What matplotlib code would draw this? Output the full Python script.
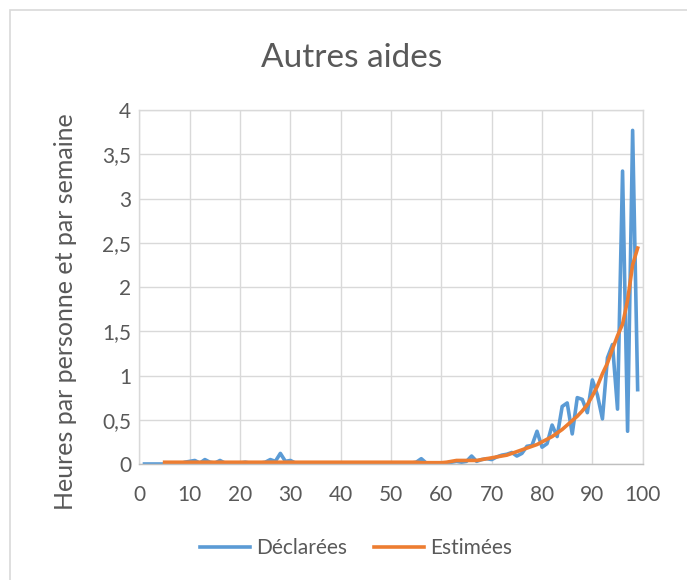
import numpy as np
import matplotlib
matplotlib.use("Agg")
import matplotlib.pyplot as plt
from matplotlib.patches import Rectangle

plt.rcParams['font.family'] = ['Lato', 'DejaVu Sans']

# ages
ages_decl = list(range(1, 100))
ages_est = list(range(5, 100))

# Déclarées, x = 1..99
declarees = [
    0, 0, 0, 0, 0, 0.01, 0.01, 0, 0.02, 0.03,          # 1-10
    0.04, 0.01, 0.05, 0.02, 0.01, 0.04, 0.01, 0, 0.01, 0.01,   # 11-20
    0.02, 0.01, 0, 0.01, 0.02, 0.05, 0.03, 0.12, 0.03, 0.04,   # 21-30
    0.01, 0, 0.01, 0, 0, 0.01, 0, 0.01, 0, 0.01,        # 31-40
    0, 0.01, 0, 0, 0.01, 0, 0.01, 0, 0, 0.01,           # 41-50
    0, 0.01, 0, 0.01, 0.02, 0.06, 0.01, 0, 0.01, 0.01,  # 51-60
    0.01, 0.02, 0.03, 0.02, 0.03, 0.09, 0.03, 0.05, 0.06, 0.05,  # 61-70
    0.08, 0.10, 0.11, 0.13, 0.09, 0.12, 0.20, 0.21, 0.37, 0.19,  # 71-80
    0.23, 0.44, 0.31, 0.65, 0.69, 0.34, 0.75, 0.73, 0.58, 0.95,  # 81-90
    0.78, 0.51, 1.20, 1.35, 0.62, 3.31, 0.37, 3.77, 0.84,        # 91-99
]

# Estimées, x = 5..99
estimees = [0.02] * 51 + [                       # 5-55
    0.015, 0.015, 0.015, 0.015, 0.015, 0.02, 0.03,   # 56-62
    0.04, 0.04, 0.04, 0.04, 0.04, 0.05, 0.06, 0.07,  # 63-70
    0.08, 0.09, 0.10, 0.12, 0.14, 0.16, 0.18, 0.20, 0.22, 0.25,  # 71-80
    0.28, 0.31, 0.35, 0.39, 0.44, 0.49, 0.54, 0.60, 0.67, 0.77,  # 81-90
    0.88, 1.02, 1.14, 1.30, 1.45, 1.58, 1.85, 2.25, 2.44,        # 91-99
]

yticks = [0, 0.5, 1, 1.5, 2, 2.5, 3, 3.5, 4]
ytick_labels = ["0", "0,5", "1", "1,5", "2", "2,5", "3", "3,5", "4"]
xticks = list(range(0, 101, 10))

grey = "#595959"
gridc = "#d9d9d9"

fig = plt.figure(figsize=(6.87, 5.8), dpi=100)
# chart frame (only left and top edges visible in the crop)
fig.patches.append(Rectangle((10 / 687, -0.05), 1.1, 1.05 - 10 / 580,
                             transform=fig.transFigure, fill=False,
                             edgecolor=gridc, linewidth=1.2))
ax = fig.add_axes([0.203, 0.2, 0.7325, 0.6103])

ax.plot(ages_decl, declarees, color="#5B9BD5", lw=2.6, label="Déclarées",
        solid_joinstyle="round")
ax.plot(ages_est, estimees, color="#ED7D31", lw=2.6, label="Estimées",
        solid_joinstyle="round")

ax.set_xlim(0, 100)
ax.set_ylim(0, 4)
ax.set_xticks(xticks)
ax.set_yticks(yticks)
ax.set_yticklabels(ytick_labels)
ax.grid(True, color=gridc, lw=1)
ax.set_axisbelow(True)
for s in ax.spines.values():
    s.set_color(gridc)
    s.set_linewidth(1)
ax.spines['bottom'].set_color("#bfbfbf")
ax.tick_params(length=0, colors=grey, labelsize=15)
ax.tick_params(axis="x", pad=15)
ax.tick_params(axis="y", pad=6)

ax.set_ylabel("Heures par personne et par semaine", fontsize=18, color=grey)
ax.yaxis.set_label_coords(-0.125, 0.43)
fig.text(0.512, 0.9, "Autres aides", ha="center", va="center", fontsize=24, color=grey)

fig.legend(loc="center", bbox_to_anchor=(0.518, 0.055), ncol=2, frameon=False,
           fontsize=15, labelcolor=grey, handlelength=2.4, columnspacing=1.3,
           handletextpad=0.3)

fig.savefig("out.png", dpi=100)
